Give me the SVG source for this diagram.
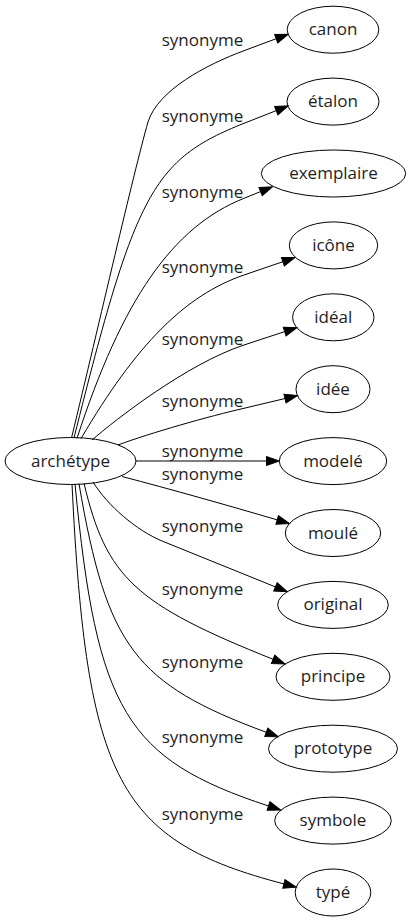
<svg xmlns="http://www.w3.org/2000/svg" width="411" height="923" viewBox="0 0 411 923">
<style>
  .node ellipse { fill: none; stroke: #000; stroke-width: 1; }
  .node text { font-family: "Open Sans", "Liberation Sans", sans-serif; font-size: 17px; fill: #1e1e1e; text-anchor: middle; }
  .edges path { fill: none; stroke: #000; stroke-width: 1; marker-end: url(#ah); }
  .edges text { font-family: "Open Sans", "Liberation Sans", sans-serif; font-size: 17px; fill: #1e1e1e; text-anchor: middle; }
</style>
<defs>
  <marker id="ah" markerUnits="userSpaceOnUse" viewBox="0 0 13 9" markerWidth="13" markerHeight="9" refX="0" refY="4.5" orient="auto" overflow="visible">
    <path d="M0,0 L12.8,4.5 L0,9 z" fill="#000" stroke="#000" stroke-width="1"/>
  </marker>
</defs>
<rect width="411" height="923" fill="#fff"/>
<g class="edges" id="connectors">
  <path d="M71.5,438 C100,320 133,175 148,122 C158,90 206.5,64.6 244,50.7 L276.2,38.7"/>
  <text x="202.5" y="45.7">synonyme</text>
  <path d="M74,438 C135.4,191.7 152.9,159.6 244,123.3 L276.3,110.6"/>
  <text x="202.5" y="121.7">synonyme</text>
  <path d="M77,438.3 C122.1,299.8 172.4,226.8 244,198.3 L260.6,191.6"/>
  <text x="202.5" y="198.3">synonyme</text>
  <path d="M81,438.6 C136.3,344.5 184.9,295.3 244,275 L282.9,261.7"/>
  <text x="202.5" y="273.3">synonyme</text>
  <path d="M92,440 C115,420 187,363.8 244,345 L284.7,331.6"/>
  <text x="202.5" y="345">synonyme</text>
  <path d="M118,445 C150,433 210,416 244,408.3 L285,398.5"/>
  <text x="202.5" y="406.7">synonyme</text>
  <path d="M136,461 L266.5,461"/>
  <text x="202.5" y="456.7">synonyme</text>
  <path d="M122,476.5 C170,489 230,506 277.2,519.9"/>
  <text x="202.5" y="480">synonyme</text>
  <path d="M93,482 C108,506 136,530 162,541 L275.4,586.9"/>
  <text x="202.5" y="531.7">synonyme</text>
  <path d="M84,483.2 C106.3,577.6 134.8,604 273.1,659.3"/>
  <text x="202.5" y="595">synonyme</text>
  <path d="M79,483.7 C106.9,646.7 135,683.7 266.3,732.3"/>
  <text x="202.5" y="668.3">synonyme</text>
  <path d="M75,484 C96.8,710.9 126,759 268.5,806"/>
  <text x="202.5" y="743.3">synonyme</text>
  <path d="M72,484 C86.4,781 118.4,840.8 283.9,883.9"/>
  <text x="202.5" y="820">synonyme</text>
</g>
<g class="node" id="n-archetype"><ellipse cx="70.5" cy="461" rx="65.5" ry="23.5"/><text x="70.5" y="466.5">archétype</text></g>
<g class="node" id="n-canon"><ellipse cx="333" cy="29.7" rx="45.8" ry="23.5"/><text x="333" y="35.2">canon</text></g>
<g class="node" id="n-etalon"><ellipse cx="333" cy="101.6" rx="46" ry="23.5"/><text x="333" y="107.1">étalon</text></g>
<g class="node" id="n-exemplaire"><ellipse cx="333.5" cy="173.5" rx="72.2" ry="23.5"/><text x="333.5" y="179">exemplaire</text></g>
<g class="node" id="n-icone"><ellipse cx="333.5" cy="245.4" rx="44.2" ry="23.5"/><text x="333.5" y="250.9">icône</text></g>
<g class="node" id="n-ideal"><ellipse cx="333.3" cy="317.3" rx="40.7" ry="23.5"/><text x="333.3" y="322.8">idéal</text></g>
<g class="node" id="n-idee"><ellipse cx="333" cy="389.2" rx="37" ry="23.5"/><text x="333" y="394.7">idée</text></g>
<g class="node" id="n-modele"><ellipse cx="333" cy="461.1" rx="53.7" ry="23.5"/><text x="333" y="466.6">modelé</text></g>
<g class="node" id="n-moule"><ellipse cx="333" cy="533" rx="47.7" ry="23.5"/><text x="333" y="538.5">moulé</text></g>
<g class="node" id="n-original"><ellipse cx="333" cy="604.9" rx="55.3" ry="23.5"/><text x="333" y="610.4">original</text></g>
<g class="node" id="n-principe"><ellipse cx="333" cy="676.8" rx="57" ry="23.5"/><text x="333" y="682.3">principe</text></g>
<g class="node" id="n-prototype"><ellipse cx="333" cy="748.7" rx="64.5" ry="23.5"/><text x="333" y="754.2">prototype</text></g>
<g class="node" id="n-symbole"><ellipse cx="333" cy="820.6" rx="58.3" ry="23.5"/><text x="333" y="826.1">symbole</text></g>
<g class="node" id="n-type"><ellipse cx="333" cy="892.5" rx="37.8" ry="23.5"/><text x="333" y="898">typé</text></g>
</svg>
